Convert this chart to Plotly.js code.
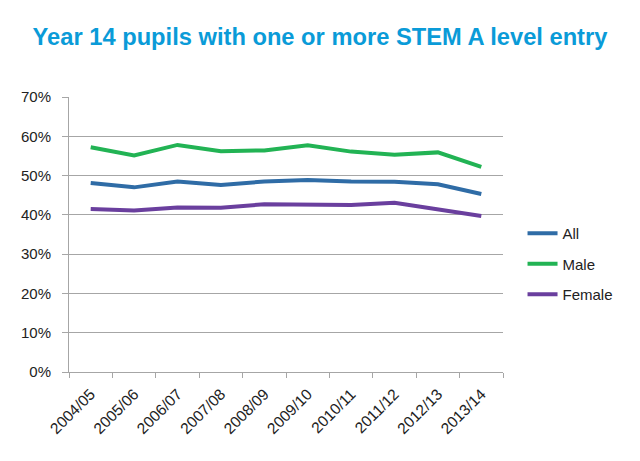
<!DOCTYPE html>
<html><head><meta charset="utf-8">
<script src="https://cdn.plot.ly/plotly-3.0.1.min.js"></script>
<style>html,body{margin:0;padding:0;background:#fff}#c{width:640px;height:461px}</style>
</head><body><div id="c"></div>
<script>
var years = ["2004/05","2005/06","2006/07","2007/08","2008/09","2009/10","2010/11","2011/12","2012/13","2013/14"];
var allPupils = [0.481,0.470,0.485,0.476,0.485,0.489,0.485,0.484,0.478,0.453];
var male = [0.572,0.551,0.578,0.562,0.564,0.577,0.561,0.553,0.559,0.522];
var female = [0.415,0.411,0.419,0.418,0.427,0.425,0.425,0.431,0.414,0.397];

function tr(name, y, color){
  return {x: years, y: y, name: name, type: 'scatter', mode: 'lines',
    line: {color: color, width: 4}, legendgroup: name};
}
var data = [tr('All', allPupils, '#2f6ca6'), tr('Male', male, '#22b354'), tr('Female', female, '#6a3f9e')];
var layout = {
  width: 640, height: 461,
  margin: {l: 69, r: 137, t: 97, b: 89},
  paper_bgcolor: '#fff', plot_bgcolor: '#fff',
  font: {family: 'Liberation Sans, Arial, sans-serif', color: '#222', size: 15},
  title: {text: '<b>Year 14 pupils with one or more STEM A level entry</b>',
    font: {size: 23.7, color: '#0a9bd8', family: 'Liberation Sans, Arial, sans-serif'},
    x: 0.5, xanchor: 'center', y: 0.92, yanchor: 'middle'},
  xaxis: {type: 'category', tickangle: -45, tickson: 'boundaries', ticks: 'outside', ticklen: 5,
    tickcolor: '#a6a6a6', showline: true, linecolor: '#a6a6a6', linewidth: 1, showgrid: false,
    tickfont: {size: 15.5, color: '#222'}, ticklabelstandoff: 6, range: [-0.5, 9.5]},
  yaxis: {range: [0, 0.7], dtick: 0.1, tickformat: '.0%', ticks: 'outside', ticklen: 6,
    tickcolor: '#a6a6a6', showline: true, linecolor: '#a6a6a6', linewidth: 1,
    showgrid: true, gridcolor: '#a6a6a6', gridwidth: 1, zeroline: false,
    tickfont: {size: 15, color: '#222'}, ticklabelstandoff: 8},
  showlegend: true,
  legend: {x: 1.045, y: 0.564, xanchor: 'left', yanchor: 'top', traceorder: 'grouped',
    tracegroupgap: 8, font: {size: 15, color: '#222'}, bgcolor: 'rgba(0,0,0,0)'}
};
Plotly.newPlot('c', data, layout, {displayModeBar: false, staticPlot: true});
</script></body></html>
